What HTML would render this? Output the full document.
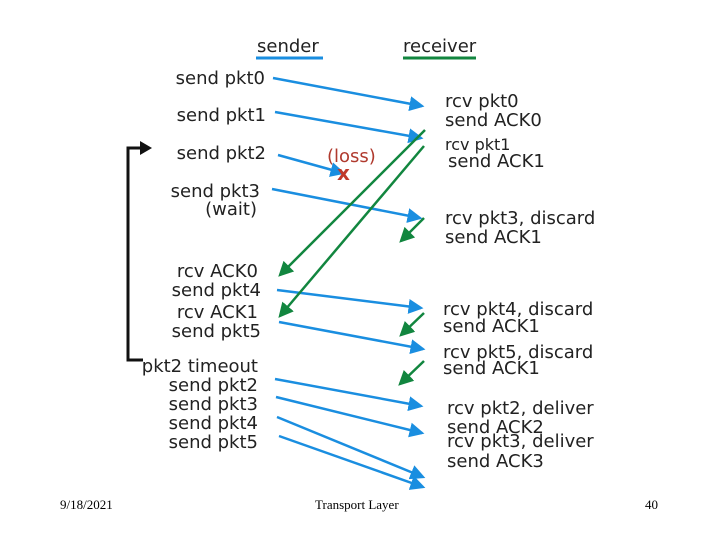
<!DOCTYPE html>
<html><head><style>
body{margin:0;background:#fff;}
svg{display:block}
text{font-family:"DejaVu Sans","Liberation Sans",sans-serif;font-size:18px;fill:#222;}
.f{font-family:"Liberation Serif",serif;font-size:13px;fill:#000}
</style></head><body>
<svg width="720" height="540" viewBox="0 0 720 540">
<defs>
<marker id="b" markerWidth="6" markerHeight="6" refX="5" refY="3" orient="auto" markerUnits="strokeWidth"><path d="M0,0 L6,3 L0,6 z" fill="#1a8ee0"/></marker>
<marker id="g" markerWidth="6" markerHeight="6" refX="5" refY="3" orient="auto" markerUnits="strokeWidth"><path d="M0,0 L6,3 L0,6 z" fill="#12863f"/></marker>
</defs>
<text x="257" y="52">sender</text>
<line x1="256" y1="58" x2="323" y2="58" stroke="#1a8ee0" stroke-width="3"/>
<text x="403" y="52">receiver</text>
<line x1="403" y1="58" x2="476" y2="58" stroke="#12863f" stroke-width="3"/>

<g stroke="#1a8ee0" stroke-width="2.5" fill="none" marker-end="url(#b)">
<line x1="273" y1="78" x2="422" y2="106"/>
<line x1="275" y1="112" x2="421" y2="138"/>
<line x1="278" y1="155" x2="343" y2="173"/>
<line x1="272" y1="189" x2="420" y2="218"/>
<line x1="277" y1="290" x2="421" y2="308"/>
<line x1="279" y1="322" x2="423" y2="349"/>
<line x1="275" y1="379" x2="421" y2="406"/>
<line x1="276" y1="397" x2="422" y2="433"/>
<line x1="277" y1="417" x2="423" y2="477"/>
<line x1="279" y1="436" x2="423" y2="487"/>
</g>
<g stroke="#12863f" stroke-width="2.5" fill="none" marker-end="url(#g)">
<line x1="425" y1="130" x2="280" y2="275"/>
<line x1="424" y1="146" x2="280" y2="316"/>
<line x1="424" y1="218" x2="401" y2="241"/>
<line x1="424" y1="313" x2="401" y2="335"/>
<line x1="424" y1="361" x2="400" y2="384"/>
</g>
<text x="337" y="180" style="fill:#c0392b;font-size:20px;font-weight:bold">x</text>
<text x="327" y="162" style="fill:#b03a2e">(loss)</text>

<polyline points="149,148 128,148 128,360 143,360" stroke="#111" stroke-width="3" fill="none"/>
<path d="M140,141 L152,148 L140,155 z" fill="#111"/>

<g text-anchor="end">
<text x="265" y="84">send pkt0</text>
<text x="266" y="121">send pkt1</text>
<text x="266" y="159">send pkt2</text>
<text x="260" y="197">send pkt3</text>
<text x="257" y="215">(wait)</text>
<text x="258" y="277">rcv ACK0</text>
<text x="261" y="296">send pkt4</text>
<text x="258" y="318">rcv ACK1</text>
<text x="261" y="337">send pkt5</text>
<text x="258" y="372">pkt2 timeout</text>
<text x="258" y="391">send pkt2</text>
<text x="258" y="410">send pkt3</text>
<text x="258" y="429">send pkt4</text>
<text x="258" y="448">send pkt5</text>
</g>
<text x="445" y="107">rcv pkt0</text>
<text x="445" y="126">send ACK0</text>
<text x="445" y="150" style="font-size:16px">rcv pkt1</text>
<text x="448" y="167">send ACK1</text>
<text x="445" y="224">rcv pkt3, discard</text>
<text x="445" y="243">send ACK1</text>
<text x="443" y="315">rcv pkt4, discard</text>
<text x="443" y="332">send ACK1</text>
<text x="443" y="358">rcv pkt5, discard</text>
<text x="443" y="374">send ACK1</text>
<text x="447" y="414">rcv pkt2, deliver</text>
<text x="447" y="433">send ACK2</text>
<text x="447" y="447">rcv pkt3, deliver</text>
<text x="447" y="467">send ACK3</text>

<text class="f" x="60" y="509">9/18/2021</text>
<text class="f" x="315" y="509">Transport Layer</text>
<text class="f" x="645" y="509">40</text>
</svg>
</body></html>
